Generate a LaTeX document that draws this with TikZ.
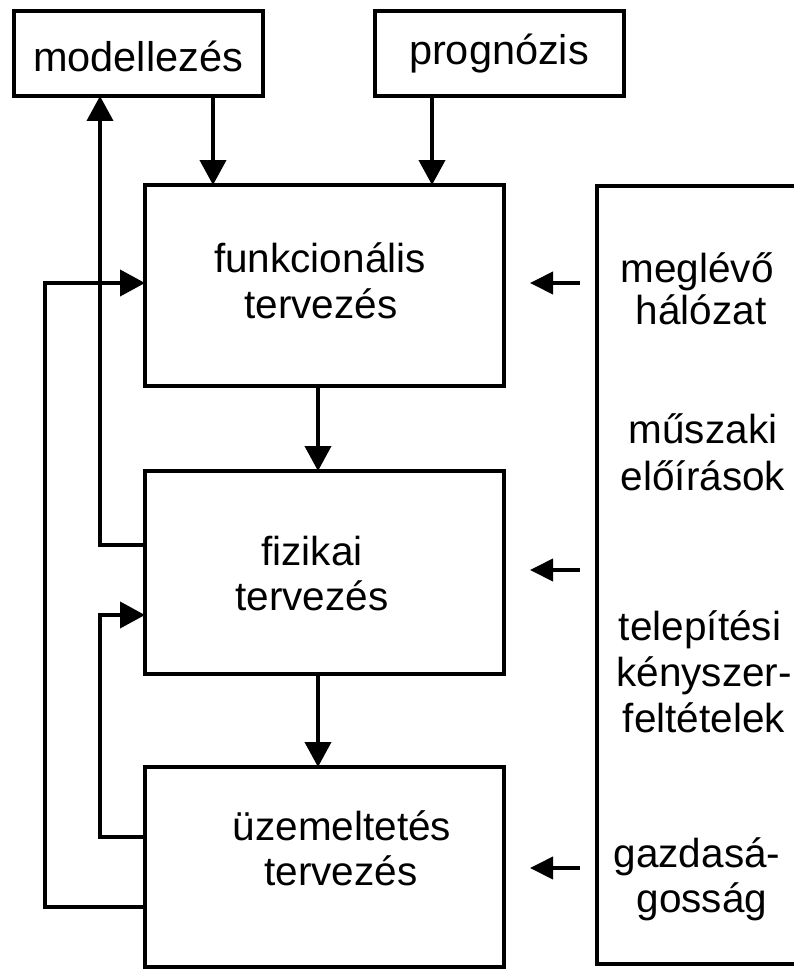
\documentclass[tikz,border=0pt]{standalone}
\usepackage{fontspec}
\setmainfont{Liberation Sans}
\usetikzlibrary{arrows.meta}
\begin{document}
\begin{tikzpicture}[x=1pt,y=-1pt,
  box/.style={draw,line width=4pt,rectangle,inner sep=0pt,outer sep=0pt},
  lab/.style={inner sep=0pt,anchor=base,font=\fontsize{40.5}{46}\selectfont},
  conn/.style={line width=4pt},
  arr/.style={line width=4pt,-{Triangle[length=25pt,width=26pt]}},
  sarr/.style={line width=4pt,-{Triangle[length=23pt,width=22pt]}}]
\useasboundingbox (0,0) rectangle (794,971);
% boxes
\node[box,minimum width=249pt,minimum height=85pt] (mod) at (138.5,53.5) {};
\node[box,minimum width=249pt,minimum height=85pt] (prog) at (499.5,53.5) {};
\node[box,minimum width=359pt,minimum height=201pt] (funk) at (324.5,285.5) {};
\node[box,minimum width=359pt,minimum height=203pt] (fiz) at (324.5,572.5) {};
\node[box,minimum width=359pt,minimum height=200pt] (uzem) at (324.5,867) {};
% right open box
\coordinate (rtop) at (794,186);
\coordinate (rbot) at (794,964);
\draw[conn,line cap=butt] (rtop) -- (597,186) coordinate (rtl) -- (597,964) coordinate (rbl) -- (rbot);
% texts
\node[lab,font=\fontsize{41.5}{46}\selectfont] (tmod) at (138,72) {modellezés};
\node[lab,font=\fontsize{41.5}{46}\selectfont] (tprog) at (499,65) {prognózis};
\node[lab] (tf1) at (320,272) {funkcionális};
\node[lab] (tf2) at (321,318) {tervezés};
\node[lab] (tz1) at (312,565) {fizikai};
\node[lab] (tz2) at (312,610) {tervezés};
\node[lab] (tu1) at (342,840) {üzemeltetés};
\node[lab] (tu2) at (341,885) {tervezés};
\node[lab] (r1) at (697,282) {meglévő};
\node[lab] (r2) at (701,324) {hálózat};
\node[lab] (r3) at (703,443) {műszaki};
\node[lab] (r4) at (703,490) {előírások};
\node[lab] (r5) at (700,640) {telepítési};
\node[lab] (r6) at (704,686) {kényszer-};
\node[lab] (r7) at (704,732) {feltételek};
\node[lab] (r8) at (697,867) {gazdasá-};
\node[lab] (r9) at (702,912) {gosság};
% vertical connectors
\coordinate (xa) at (213,0);
\coordinate (xb) at (432,0);
\coordinate (xc) at (318,0);
\coordinate (xl) at (100,0);
\coordinate (xo) at (45,0);
\draw[arr] (xa |- mod.south) -- (xa |- funk.north);
\draw[arr] (xb |- prog.south) -- (xb |- funk.north);
\draw[arr] (xc |- funk.south) -- (xc |- fiz.north);
\draw[arr] (xc |- fiz.south) -- (xc |- uzem.north);
% feedback loops
\coordinate (y1) at (0,545);
\coordinate (y2) at (0,615);
\coordinate (y3) at (0,837);
\coordinate (y4) at (0,907);
\coordinate (y5) at (0,283);
\draw[arr] (y1 -| fiz.west) -- (y1 -| xl) -- (xl |- mod.south);
\draw[arr] (y3 -| uzem.west) -- (y3 -| xl) -- (y2 -| xl) -- (y2 -| fiz.west);
\draw[arr] (y4 -| uzem.west) -- (y4 -| xo) -- (y5 -| xo) -- (y5 -| funk.west);
% arrows from the right
\coordinate (s1) at (580,283); \coordinate (e1) at (530,283);
\coordinate (s2) at (580,570); \coordinate (e2) at (530,570);
\coordinate (s3) at (580,868); \coordinate (e3) at (530,868);
\draw[sarr] (s1) -- (e1);
\draw[sarr] (s2) -- (e2);
\draw[sarr] (s3) -- (e3);
\end{tikzpicture}
\end{document}
